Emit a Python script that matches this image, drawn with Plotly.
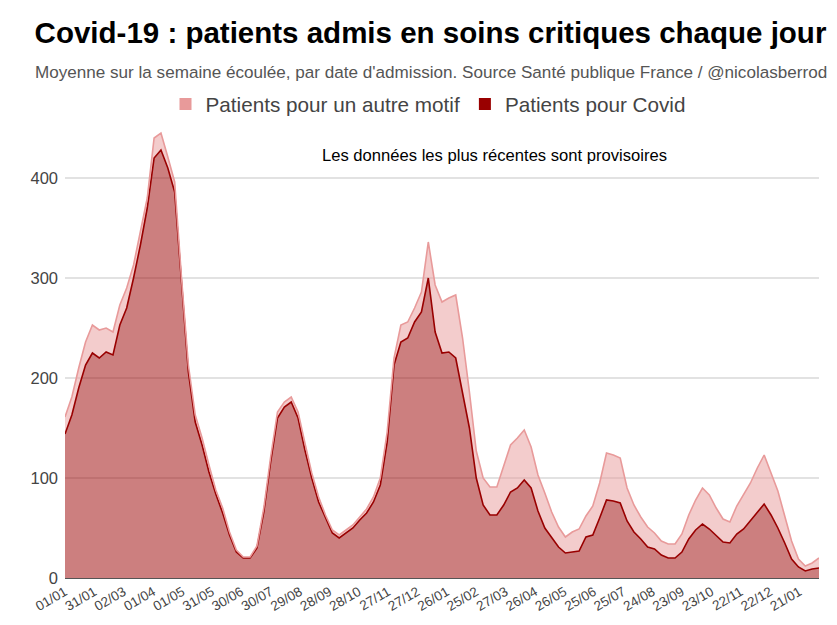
import pandas as pd
import plotly.graph_objects as go

# Weekly readings (every 7 days from 2021-01-01)
dates = pd.date_range("2021-01-01", periods=111, freq="7D")

covid = [144, 163, 190, 213, 225, 220, 226, 223, 253, 270,
         300, 333, 370, 420, 428, 410, 386, 293, 206, 156,
         133, 106, 84, 65, 43, 26, 20, 20, 30, 66,
         116, 160, 171, 176, 160, 128, 100, 76, 60, 45,
         40, 45, 50, 58, 65, 76, 93, 136, 213, 236,
         240, 256, 266, 300, 246, 225, 226, 220, 186, 150,
         100, 73, 63, 63, 73, 86, 90, 98, 90, 67,
         50, 41, 31, 25, 26, 27, 41, 43, 60, 78,
         77, 75, 57, 46, 39, 31, 29, 23, 20, 20,
         26, 39, 48, 54, 49, 42, 36, 35, 44, 49,
         57, 66, 74, 63, 50, 35, 19, 11, 7, 9,
         10]

autre_motif = [17, 18, 20, 23, 28, 28, 24, 23, 20, 20,
               13, 13, 10, 20, 17, 11, 10, 7, 7, 7,
               7, 7, 4, 5, 3, 2, 1, 1, 2, 4,
               5, 6, 5, 5, 6, 7, 5, 5, 3, 3,
               3, 3, 3, 3, 4, 5, 7, 10, 7, 17,
               16, 14, 20, 36, 47, 51, 54, 63, 54, 36,
               27, 27, 28, 28, 39, 47, 50, 50, 41, 36,
               35, 25, 20, 16, 20, 22, 21, 29, 35, 47,
               46, 45, 33, 27, 22, 20, 16, 14, 14, 14,
               18, 24, 30, 36, 34, 28, 23, 21, 28, 34,
               38, 44, 49, 42, 37, 27, 18, 8, 5, 6,
               10]

tick_dates = pd.date_range("2021-01-01", periods=26, freq="30D")
tick_labels = [d.strftime("%d/%m") for d in tick_dates]
y_ticks = [0, 100, 200, 300, 400]

title_text = "Covid-19 : patients admis en soins critiques chaque jour"
subtitle_text = ("Moyenne sur la semaine écoulée, par date d'admission. "
                 "Source Santé publique France / @nicolasberrod")
note_text = "Les données les plus récentes sont provisoires"

COVID_LINE, COVID_FILL = "#990000", "rgba(153,0,0,0.5)"
AUTRE_LINE, AUTRE_FILL = "#e89a9a", "rgba(232,154,154,0.5)"

# the page body has an 8px margin: the figure is sized to fill the rest
W, H = 829, 617
PLOT_L, PLOT_R, PLOT_T, PLOT_B = 57, 811, 120, 570


def paper_x(px):
    return (px - PLOT_L) / (PLOT_R - PLOT_L)


def paper_y(px):
    return (PLOT_B - px) / (PLOT_B - PLOT_T)


fig = go.Figure()
fig.add_trace(go.Scatter(
    x=dates, y=covid, name="Patients pour Covid",
    stackgroup="one", mode="lines", showlegend=False,
    line=dict(color=COVID_LINE, width=1.6), fillcolor=COVID_FILL,
))
fig.add_trace(go.Scatter(
    x=dates, y=autre_motif, name="Patients pour un autre motif",
    stackgroup="one", mode="lines", showlegend=False,
    line=dict(color=AUTRE_LINE, width=1.6), fillcolor=AUTRE_FILL,
))
# legend entries with square swatches
fig.add_trace(go.Scatter(
    x=[None], y=[None], mode="markers", name="Patients pour un autre motif",
    marker=dict(symbol="square", size=12, color=AUTRE_LINE),
))
fig.add_trace(go.Scatter(
    x=[None], y=[None], mode="markers", name="Patients pour Covid",
    marker=dict(symbol="square", size=12, color=COVID_LINE),
))

fig.update_layout(
    width=W, height=H,
    margin=dict(l=PLOT_L, r=W - PLOT_R, t=PLOT_T, b=H - PLOT_B),
    paper_bgcolor="white", plot_bgcolor="white",
    font=dict(family="Liberation Sans, Arial, sans-serif", color="#444"),
    title=dict(text="<b>" + title_text + "</b>", x=422.5 / W, xanchor="center",
               y=1 - 25 / H, yanchor="middle",
               font=dict(size=29.5, color="#000")),
    legend=dict(orientation="h", x=paper_x(420), xanchor="center",
                y=1 - 96 / H, yref="container", yanchor="middle",
                font=dict(size=20.7, color="#444"), itemwidth=30,
                traceorder="normal"),
    showlegend=True,
    annotations=[
        dict(text=subtitle_text, xref="paper", yref="paper",
             x=paper_x(422.5), y=paper_y(64), xanchor="center", yanchor="middle",
             showarrow=False, font=dict(size=17.1, color="#555")),
        dict(text=note_text, xref="paper", yref="paper",
             x=paper_x(486.5), y=paper_y(147), xanchor="center", yanchor="middle",
             showarrow=False, font=dict(size=16.6, color="#000")),
    ],
    xaxis=dict(
        range=[dates[0], dates[-1]], automargin=False,
        tickvals=tick_dates, ticktext=tick_labels,
        tickangle=-30, tickfont=dict(size=13.5, color="#444"),
        showgrid=False, showline=True, linecolor="#555", linewidth=1,
        ticks="", zeroline=False,
    ),
    yaxis=dict(
        range=[0, 450], tickvals=y_ticks, automargin=False,
        tickfont=dict(size=16.5, color="#444"),
        showgrid=True, gridcolor="#e2e2e2", gridwidth=1.5,
        zeroline=False, showline=False, ticks="", ticklabelstandoff=6,
    ),
)

fig.write_html("out.html")
